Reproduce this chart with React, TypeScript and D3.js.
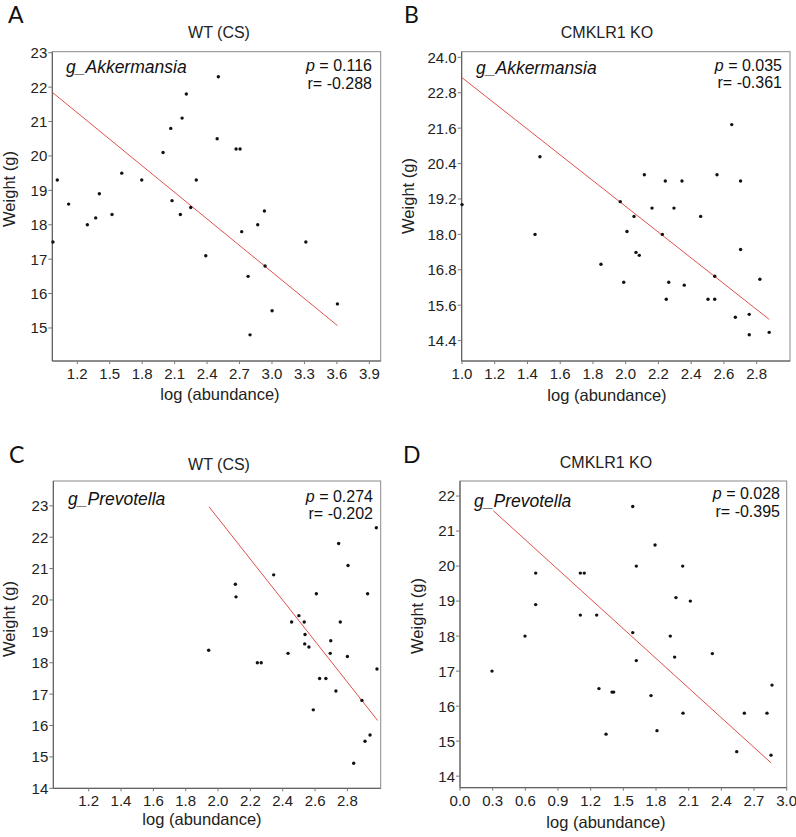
import React from 'react';
import * as d3 from 'd3';

// ---- data ----
// A: WT (CS), g_Akkermansia
const akkWtX = [1.015, 1.404, 1.611, 1.796, 1.993, 2.064, 2.169, 2.208, 2.30, 2.493, 2.504, 2.668, 2.705,
  0.975, 1.12, 1.293, 1.37, 1.521, 2.076, 2.153, 2.249, 2.388, 2.72, 2.779, 2.797, 2.868, 2.93, 2.936, 3.001, 3.313, 3.605];
const akkWtY = [19.3, 18.9, 19.5, 19.3, 20.1, 20.8, 21.1, 21.8, 19.3, 20.5, 22.3, 20.2, 20.2,
  17.5, 18.6, 18.0, 18.2, 18.3, 18.7, 18.3, 18.5, 17.1, 17.8, 16.5, 14.8, 18.0, 18.4, 16.8, 15.5, 17.5, 15.7];
const akkWtFitX = [0.969, 3.605];
const akkWtFitY = [21.85, 15.07];

// B: CMKLR1 KO, g_Akkermansia
const akkKoX = [1.476, 2.114, 2.242, 2.344, 2.558, 2.648, 2.702,
  1.0, 1.446, 1.849, 1.967, 1.988, 2.008, 2.051, 2.063, 2.083, 2.161, 2.224, 2.248, 2.263, 2.295, 2.358,
  2.458, 2.503, 2.544, 2.544, 2.67, 2.702, 2.755, 2.755, 2.82, 2.877];
const akkKoY = [20.63, 20.02, 19.81, 19.81, 20.02, 21.72, 19.81,
  19.01, 18.0, 16.99, 19.11, 16.38, 18.10, 18.61, 17.39, 17.29, 18.89, 18.0, 15.80, 16.38, 18.89, 16.28,
  18.61, 15.80, 16.58, 15.80, 15.19, 17.49, 15.29, 14.60, 16.48, 14.68];
const akkKoFitX = [1.0, 2.877];
const akkKoFitY = [23.31, 15.12];

// C: WT (CS), g_Prevotella
const prevWtX = [2.107, 2.111, 2.344, 2.455, 2.5, 2.533, 2.608, 2.746, 2.804, 2.756, 2.925, 2.979,
  1.942, 2.243, 2.267, 2.433, 2.538, 2.536, 2.562, 2.589, 2.628, 2.667, 2.697, 2.694, 2.729, 2.8,
  2.89, 2.839, 2.909, 2.94, 2.983];
const prevWtY = [20.5, 20.1, 20.8, 19.3, 19.5, 19.3, 20.2, 21.8, 21.1, 19.3, 20.2, 22.3,
  18.4, 18.0, 18.0, 18.3, 18.9, 18.6, 18.5, 16.5, 17.5, 17.5, 18.7, 18.3, 17.1, 18.2,
  16.8, 14.8, 15.5, 15.7, 17.8];
const prevWtFitX = [1.944, 2.987];
const prevWtFitY = [22.97, 16.16];

// D: CMKLR1 KO, g_Prevotella
const prevKoX = [1.586, 1.791, 1.619, 2.045, 0.695, 1.105, 1.141, 0.695, 1.983, 2.115, 1.105, 1.255,
  0.597, 0.294, 1.586, 1.931, 1.619, 1.971, 2.317, 1.276, 1.396, 1.411, 1.754, 2.048, 2.611, 2.819,
  2.865, 1.341, 1.809, 2.541, 2.856];
const prevKoY = [21.7, 20.6, 20.0, 20.0, 19.8, 19.8, 19.8, 18.9, 19.1, 19.0, 18.6, 18.6,
  18.0, 17.0, 18.1, 18.0, 17.3, 17.4, 17.5, 16.5, 16.4, 16.4, 16.3, 15.8, 15.8, 15.8,
  16.6, 15.2, 15.3, 14.7, 14.6];
const prevKoFitX = [0.306, 2.856];
const prevKoFitY = [21.58, 14.38];

// tick labels
const aXTicks = [1.2, 1.5, 1.8, 2.1, 2.4, 2.7, 3.0, 3.3, 3.6, 3.9];
const aYTicks = [15, 16, 17, 18, 19, 20, 21, 22, 23];
const bXTicks = [1.0, 1.2, 1.4, 1.6, 1.8, 2.0, 2.2, 2.4, 2.6, 2.8];
const bYTicks = [14.4, 15.6, 16.8, 18.0, 19.2, 20.4, 21.6, 22.8, 24.0];
const cXTicks = [1.2, 1.4, 1.6, 1.8, 2.0, 2.2, 2.4, 2.6, 2.8];
const cYTicks = [14, 15, 16, 17, 18, 19, 20, 21, 22, 23];
const dXTicks = [0.0, 0.3, 0.6, 0.9, 1.2, 1.5, 1.8, 2.1, 2.4, 2.7, 3.0];
const dYTicks = [14, 15, 16, 17, 18, 19, 20, 21, 22];

const FONT = '"Liberation Sans", Arial, sans-serif';

type PanelProps = {
  letter: string; letterX: number; letterY: number;
  title: string; titleX: number; titleY: number;
  genus: string; genusX: number; genusY: number;
  pText: string; rText: string; statX: number; pY: number; rY: number;
  box: { l: number; t: number; r: number; b: number };
  xDomain: number[]; yDomain: number[];
  xTicks: number[]; yTicks: number[]; xFmt: string; yFmt: string;
  xs: number[]; ys: number[]; fitX: number[]; fitY: number[];
  xLabelX: number; xLabelY: number; yLabelX: number; yLabelY: number;
};

function Panel(p: PanelProps) {
  const x = d3.scaleLinear().domain(p.xDomain).range([p.box.l, p.box.r]);
  const y = d3.scaleLinear().domain(p.yDomain).range([p.box.b, p.box.t]);
  const fx = d3.format(p.xFmt);
  const fy = d3.format(p.yFmt);
  const line = d3.line<number>().x(d => x(p.fitX[d])).y(d => y(p.fitY[d]));
  return (
    <g>
      <text x={p.letterX} y={p.letterY} fontFamily="Lato, 'Open Sans', sans-serif" fontSize={23} fill="#111">{p.letter}</text>
      <text x={p.titleX} y={p.titleY} textAnchor="middle" fontSize={16} fill="#222">{p.title}</text>
      <rect x={p.box.l} y={p.box.t} width={p.box.r - p.box.l} height={p.box.b - p.box.t}
        fill="none" stroke="#8a8a8a" strokeWidth={1} />
      <line x1={p.box.l} x2={p.box.l} y1={p.box.t} y2={p.box.b} stroke="#555" />
      <line x1={p.box.l} x2={p.box.r} y1={p.box.b} y2={p.box.b} stroke="#555" />
      {p.yTicks.map(t => (
        <g key={'y' + t}>
          <line x1={p.box.l - 4} x2={p.box.l} y1={y(t)} y2={y(t)} stroke="#777" />
          <text x={p.box.l - 5} y={y(t)} dy="0.36em" textAnchor="end" fontSize={15} fill="#222">{fy(t)}</text>
        </g>
      ))}
      {p.xTicks.map(t => (
        <g key={'x' + t}>
          <line x1={x(t)} x2={x(t)} y1={p.box.b} y2={p.box.b + 3} stroke="#777" />
          <text x={x(t)} y={p.box.b + 18} textAnchor="middle" fontSize={15} fill="#222">{fx(t)}</text>
        </g>
      ))}
      <path d={line(d3.range(p.fitX.length)) || ''} fill="none" stroke="#e0504a" strokeWidth={1} />
      {p.xs.map((v, i) => (
        <circle key={i} cx={x(v)} cy={y(p.ys[i])} r={1.7} fill="#111" />
      ))}
      <text x={p.genusX} y={p.genusY} fontSize={17.5} fontStyle="italic" fill="#111">{p.genus}</text>
      <text x={p.statX} y={p.pY} textAnchor="end" fontSize={16} fill="#111">
        <tspan fontStyle="italic">p</tspan>{' = ' + p.pText}
      </text>
      <text x={p.statX} y={p.rY} textAnchor="end" fontSize={16} fill="#111">{'r= ' + p.rText}</text>
      <text x={p.xLabelX} y={p.xLabelY} textAnchor="middle" fontSize={16.5} fill="#222">log (abundance)</text>
      <text transform={`translate(${p.yLabelX},${p.yLabelY}) rotate(-90)`} textAnchor="middle" fontSize={16.5} fill="#222">Weight (g)</text>
    </g>
  );
}

export default function App() {
  return (
    <svg width={796} height={837} style={{ position: 'absolute', left: 0, top: 0, background: '#fff' }}
      fontFamily={FONT}>
      <rect width={796} height={837} fill="#fff" />
      <Panel letter="A" letterX={8} letterY={23} title="WT (CS)" titleX={219} titleY={38}
        genus="g_Akkermansia" genusX={66} genusY={73} pText="0.116" rText="-0.288" statX={372} pY={71} rY={89}
        box={{ l: 52.3, t: 51.7, r: 380.7, b: 361 }} xDomain={[0.969, 4.005]} yDomain={[14.04, 23.03]}
        xTicks={aXTicks} yTicks={aYTicks} xFmt=".1f" yFmt="d"
        xs={akkWtX} ys={akkWtY} fitX={akkWtFitX} fitY={akkWtFitY}
        xLabelX={220} xLabelY={400} yLabelX={15} yLabelY={189} />
      <Panel letter="B" letterX={404} letterY={23} title="CMKLR1 KO" titleX={607} titleY={38}
        genus="g_Akkermansia" genusX={476} genusY={74} pText="0.035" rText="-0.361" statX={782} pY={71} rY={88}
        box={{ l: 461.7, t: 51.7, r: 790, b: 361 }} xDomain={[0.998, 3.004]} yDomain={[13.71, 24.19]}
        xTicks={bXTicks} yTicks={bYTicks} xFmt=".1f" yFmt=".1f"
        xs={akkKoX} ys={akkKoY} fitX={akkKoFitX} fitY={akkKoFitY}
        xLabelX={607} xLabelY={401} yLabelX={414} yLabelY={196} />
      <Panel letter="C" letterX={9} letterY={463} title="WT (CS)" titleX={219} titleY={470}
        genus="g_Prevotella" genusX={68} genusY={505} pText="0.274" rText="-0.202" statX={373} pY={502} rY={519}
        box={{ l: 53.3, t: 481, r: 380.7, b: 788.3 }} xDomain={[0.981, 3.006]} yDomain={[14, 23.79]}
        xTicks={cXTicks} yTicks={cYTicks} xFmt=".1f" yFmt="d"
        xs={prevWtX} ys={prevWtY} fitX={prevWtFitX} fitY={prevWtFitY}
        xLabelX={202} xLabelY={825} yLabelX={15} yLabelY={619} />
      <Panel letter="D" letterX={403} letterY={463} title="CMKLR1 KO" titleX={606} titleY={468}
        genus="g_Prevotella" genusX={474} genusY={507} pText="0.028" rText="-0.395" statX={780} pY={499} rY={517}
        box={{ l: 460, t: 481, r: 786.7, b: 787.7 }} xDomain={[0, 3.0]} yDomain={[13.67, 22.43]}
        xTicks={dXTicks} yTicks={dYTicks} xFmt=".1f" yFmt="d"
        xs={prevKoX} ys={prevKoY} fitX={prevKoFitX} fitY={prevKoFitY}
        xLabelX={606} xLabelY={828} yLabelX={423} yLabelY={616} />
    </svg>
  );
}
